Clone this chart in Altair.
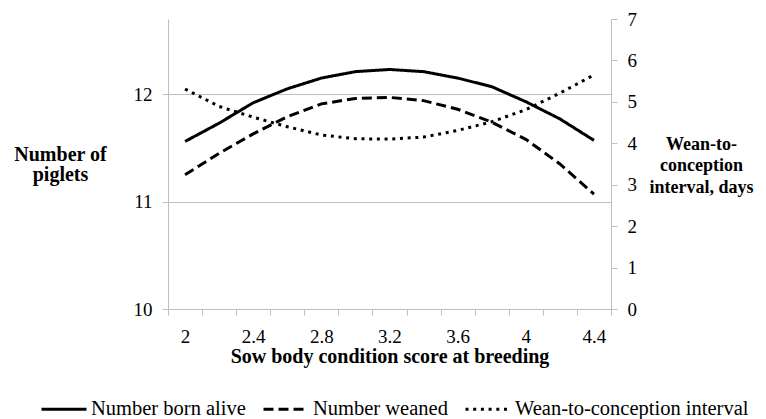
import altair as alt
import pandas as pd

# ---- data ----
bcs = [2.0, 2.2, 2.4, 2.6, 2.8, 3.0, 3.2, 3.4, 3.6, 3.8, 4.0, 4.2, 4.4]
born_alive = [11.56, 11.73, 11.92, 12.05, 12.15, 12.21, 12.23, 12.21, 12.15, 12.07, 11.93, 11.77, 11.57]
weaned = [11.25, 11.45, 11.63, 11.79, 11.91, 11.96, 11.97, 11.94, 11.86, 11.74, 11.58, 11.35, 11.07]
interval = [5.31, 4.89, 4.63, 4.40, 4.20, 4.11, 4.10, 4.15, 4.31, 4.52, 4.81, 5.21, 5.65]
series_names = ["Number born alive", "Number weaned", "Wean-to-conception interval"]
left_ticks = [10, 11, 12]
right_ticks = [0, 1, 2, 3, 4, 5, 6, 7]

left_df = pd.DataFrame({
    "bcs": bcs + bcs,
    "value": born_alive + weaned,
    "series": [series_names[0]] * len(bcs) + [series_names[1]] * len(bcs),
})
right_df = pd.DataFrame({
    "bcs": bcs,
    "value": interval,
    "series": [series_names[2]] * len(bcs),
})

FONT = "Liberation Serif"
GRAY = "#bfbfbf"

# category-style boundaries (Excel category axis): ticks between categories
boundaries = [1.9, 2.1, 2.3, 2.5, 2.7, 2.9, 3.1, 3.3, 3.5, 3.7, 3.9, 4.1, 4.3, 4.5]

x_enc = alt.X(
    "bcs:Q",
    scale=alt.Scale(domain=[1.9, 4.5], nice=False, zero=False),
    axis=alt.Axis(
        title="Sow body condition score at breeding",
        values=boundaries,
        labelExpr="(round((datum.value + 0.1 - 2) * 10) % 4 == 0) ? format(datum.value + 0.1, '~g') : ''",
        labelOffset=17,
        labelOverlap=False,
        labelFlush=False,
        labelBound=False,
        labelFont=FONT,
        labelFontSize=19,
        labelColor="black",
        labelPadding=12,
        tickSize=6,
        tickColor=GRAY,
        domainColor=GRAY,
        grid=False,
        titleFont=FONT,
        titleFontSize=20,
        titleFontWeight="bold",
        titleColor="black",
        titleBaseline="top",
        titleY=37,
    ),
)

dash_scale = alt.Scale(domain=series_names, range=[[1, 0], [10, 5], [3, 4.7]])
legend = alt.Legend(
    title=None,
    orient="none",
    legendX=-128,
    legendY=366,
    direction="horizontal",
    symbolType="stroke",
    symbolSize=2025,
    symbolStrokeWidth=3,
    symbolStrokeColor="black",
    labelFont=FONT,
    labelFontSize=20.5,
    labelColor="black",
    labelOffset=3,
    columnPadding=11,
    padding=0,
    labelLimit=0,
)

left = alt.Chart(left_df).mark_line(color="black", strokeWidth=3, strokeCap="butt").encode(
    x=x_enc,
    y=alt.Y(
        "value:Q",
        scale=alt.Scale(domain=[10, 12.7], nice=False, zero=False),
        axis=alt.Axis(
            values=left_ticks,
            title=["Number of", "piglets"],
            titleAngle=0,
            titleAlign="center",
            titleBaseline="middle",
            titleX=-108,
            titleY=135,
            titleLineHeight=20,
            titleFont=FONT,
            titleFontSize=20,
            titleFontWeight="bold",
            titleColor="black",
            labelFont=FONT,
            labelFontSize=19,
            labelColor="black",
            labelPadding=10,
            tickSize=6,
            tickColor=GRAY,
            domainColor=GRAY,
            grid=True,
            gridColor=GRAY,
            gridWidth=1,
        ),
    ),
    strokeDash=alt.StrokeDash("series:N", scale=dash_scale, legend=legend),
    detail="series:N",
)

right = alt.Chart(right_df).mark_line(color="black", strokeWidth=3, strokeCap="butt").encode(
    x=x_enc,
    y=alt.Y(
        "value:Q",
        scale=alt.Scale(domain=[0, 7], nice=False, zero=True),
        axis=alt.Axis(
            orient="right",
            values=right_ticks,
            title=["Wean-to-", "conception", "interval, days"],
            titleAngle=0,
            titleAlign="center",
            titleBaseline="middle",
            titleX=90,
            titleY=125,
            titleLineHeight=21.7,
            titleFont=FONT,
            titleFontSize=18,
            titleFontWeight="bold",
            titleColor="black",
            labelFont=FONT,
            labelFontSize=19,
            labelColor="black",
            labelPadding=10,
            tickSize=6,
            tickColor=GRAY,
            domainColor=GRAY,
            grid=False,
        ),
    ),
    strokeDash=alt.StrokeDash("series:N", scale=dash_scale, legend=legend),
)

chart = (
    alt.layer(left, right)
    .resolve_scale(y="independent")
    .properties(
        width=443,
        height=290,
        autosize=alt.AutoSizeParams(type="none"),
        padding={"left": 160, "top": 11, "right": 147, "bottom": 110},
        background="white",
    )
    .configure_view(stroke=None)
)

chart.save("out.html", embed_options={"renderer": "svg", "actions": False})
